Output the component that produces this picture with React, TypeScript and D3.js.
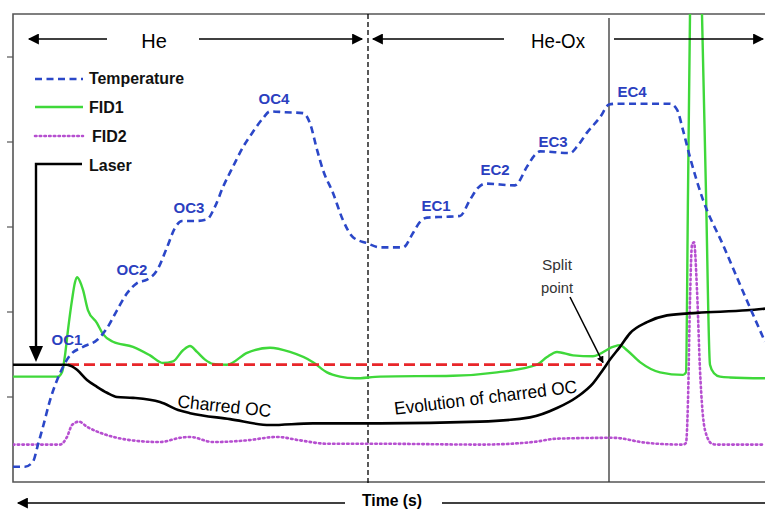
import * as d3 from 'd3';

// time (s) and signal (a.u.)
const temperature: [number, number][] = [
  [0, 0.18], [12, 0.18], [20, 0.24], [25, 0.44], [30, 0.65], [37, 0.96], [47, 1.28], [57, 1.49],
  [70, 1.59], [84, 1.67], [94, 1.81], [104, 2.02], [114, 2.22], [124, 2.34], [134, 2.38], [144, 2.49],
  [154, 2.76], [162, 2.99], [169, 3.07], [182, 3.07], [194, 3.09], [202, 3.24], [210, 3.47], [220, 3.71],
  [230, 3.94], [240, 4.12], [250, 4.28], [257, 4.36], [272, 4.35], [290, 4.34], [297, 4.22], [304, 3.91],
  [310, 3.67], [320, 3.40], [330, 3.08], [340, 2.88], [354, 2.81], [367, 2.76], [390, 2.76], [400, 2.93],
  [407, 3.06], [414, 3.11], [432, 3.12], [447, 3.13], [457, 3.32], [465, 3.46], [472, 3.51], [502, 3.49],
  [514, 3.71], [522, 3.85], [527, 3.89], [557, 3.87], [565, 3.96], [574, 4.11], [587, 4.29], [596, 4.44],
  [602, 4.45], [657, 4.45], [664, 4.38], [670, 4.14], [677, 3.82], [690, 3.32], [710, 2.79], [730, 2.24],
  [752, 1.65],
];

const fid1: [number, number][] = [
  [0, 1.24], [45, 1.24], [49, 1.29], [52, 1.49], [55, 1.79], [59, 2.14], [62, 2.35], [64, 2.41],
  [67, 2.36], [70, 2.26], [75, 2.02], [84, 1.87], [90, 1.74], [100, 1.65], [120, 1.59], [137, 1.49],
  [150, 1.40], [160, 1.42], [170, 1.55], [177, 1.60], [184, 1.53], [192, 1.44], [200, 1.39], [214, 1.38],
  [234, 1.52], [257, 1.58], [277, 1.53], [300, 1.41], [314, 1.29], [327, 1.24], [342, 1.22], [367, 1.24],
  [440, 1.25], [484, 1.29], [524, 1.38], [534, 1.47], [544, 1.53], [560, 1.49], [580, 1.48], [600, 1.59],
  [607, 1.61], [614, 1.55], [627, 1.41], [647, 1.29], [670, 1.26], [673, 1.29], [675, 3.4], [677, 5.5],
  [682, 8.0], [689, 5.5], [693, 3.4], [697, 1.38], [701, 1.28], [707, 1.24], [717, 1.23], [752, 1.22],
];

const fid2: [number, number][] = [
  [0, 0.44], [47, 0.44], [54, 0.53], [59, 0.67], [66, 0.71], [74, 0.65], [87, 0.58], [104, 0.52],
  [127, 0.48], [147, 0.47], [167, 0.52], [177, 0.53], [200, 0.47], [234, 0.49], [264, 0.53], [287, 0.49],
  [314, 0.45], [367, 0.45], [467, 0.44], [520, 0.47], [544, 0.51], [600, 0.52], [634, 0.46], [670, 0.44],
  [673, 0.46], [675, 0.96], [677, 2.14], [679, 2.79], [681, 2.82], [684, 2.26], [687, 1.32], [692, 0.61],
  [699, 0.45], [704, 0.44], [752, 0.44],
];

const laser: [number, number][] = [
  [0, 1.38], [54, 1.38], [59, 1.36], [64, 1.32], [74, 1.20], [84, 1.12], [94, 1.05], [104, 1.00],
  [120, 0.99], [147, 0.94], [167, 0.84], [177, 0.81], [217, 0.74], [257, 0.67], [300, 0.69], [367, 0.69],
  [467, 0.71], [517, 0.76], [544, 0.87], [564, 1.00], [580, 1.16], [590, 1.32], [597, 1.44], [607, 1.59],
  [617, 1.75], [634, 1.88], [654, 1.96], [684, 1.99], [734, 2.02], [752, 2.04],
];

const splitLevel = 1.38;
const splitRange = [55, 589];
const heOxStart = 355;
const laserOff = 596;
const yTicks = [1, 2, 3, 4, 5];

const peakLabels = [
  { label: 'OC1', t: 54, v: 1.61 },
  { label: 'OC2', t: 119, v: 2.44 },
  { label: 'OC3', t: 176, v: 3.16 },
  { label: 'OC4', t: 261, v: 4.45 },
  { label: 'EC1', t: 423, v: 3.19 },
  { label: 'EC2', t: 482, v: 3.61 },
  { label: 'EC3', t: 540, v: 3.94 },
  { label: 'EC4', t: 619, v: 4.53 },
];

const W = 765;
const H = 509;
const left = 13;
const top = 14;
const bottom = 482;
const font = 'Liberation Sans, Arial, sans-serif';

export default function App() {
  const x = d3.scaleLinear().domain([0, 752]).range([left, W]);
  const y = d3.scaleLinear().domain([0, 5.5]).range([bottom, bottom - 5.5 * 85]);

  const line = d3.line<[number, number]>()
    .x(d => x(d[0]))
    .y(d => y(d[1]))
    .curve(d3.curveMonotoneX);

  const ySplit = y(splitLevel);

  return (
    <svg width={W} height={H} style={{ position: 'absolute', left: 0, top: 0, background: '#fff' }}>
      <defs>
        <clipPath id="plot">
          <rect x={left} y={top} width={W - left} height={bottom - top} />
        </clipPath>
        <marker id="arr" viewBox="0 0 10 10" refX="9" refY="5" markerWidth="7" markerHeight="7"
          orient="auto-start-reverse" markerUnits="userSpaceOnUse">
          <path d="M0,0 L10,5 L0,10 z" fill="#000" />
        </marker>
        <marker id="arrBig" viewBox="0 0 10 10" refX="9" refY="5" markerWidth="13" markerHeight="11"
          orient="auto-start-reverse" markerUnits="userSpaceOnUse">
          <path d="M0,0 L10,5 L0,10 z" fill="#000" />
        </marker>
      </defs>

      {/* frame */}
      <path d={`M${W},${top}H${left}V${bottom}H${W}`} fill="none" stroke="#555" strokeWidth={1.6} />
      {yTicks.map(t => (
        <line key={t} x1={left - 6} x2={left} y1={y(t)} y2={y(t)} stroke="#555" strokeWidth={1.2} />
      ))}

      {/* phase dividers */}
      <line x1={x(heOxStart)} x2={x(heOxStart)} y1={top} y2={bottom + 2} stroke="#000"
        strokeWidth={1.3} strokeDasharray="5,3" />
      <line x1={x(laserOff)} x2={x(laserOff)} y1={top + 4} y2={bottom} stroke="#333" strokeWidth={1.3} />

      <g clipPath="url(#plot)" fill="none" strokeLinejoin="round">
        <path d={line(fid2) ?? ''} stroke="#b64fd0" strokeWidth={2.6} strokeDasharray="1.5,3.2"
          strokeLinecap="round" />
        <path d={line(fid1) ?? ''} stroke="#3fd83a" strokeWidth={2.4} />
        <line x1={x(splitRange[0])} x2={x(splitRange[1])} y1={ySplit} y2={ySplit} stroke="#e8262a"
          strokeWidth={2.8} strokeDasharray="11,5" />
        <path d={line(laser) ?? ''} stroke="#000" strokeWidth={2.6} />
        <path d={line(temperature) ?? ''} stroke="#2b47c8" strokeWidth={2.6} strokeDasharray="7,4.5" />
      </g>

      {/* peak labels */}
      {peakLabels.map(p => (
        <text key={p.label} x={x(p.t)} y={y(p.v)} textAnchor="middle" fontFamily={font} fontWeight="bold"
          fontSize={15} fill="#2b3fbf">{p.label}</text>
      ))}

      {/* phase arrows */}
      <g stroke="#000" strokeWidth={1.6}>
        <line x1={107} x2={29} y1={39} y2={39} markerEnd="url(#arrBig)" />
        <line x1={199} x2={362} y1={39} y2={39} markerEnd="url(#arrBig)" />
        <line x1={504} x2={373} y1={39} y2={39} markerEnd="url(#arrBig)" />
        <line x1={614} x2={763} y1={39} y2={39} markerEnd="url(#arrBig)" />
        <line x1={345} x2={18} y1={503} y2={503} markerEnd="url(#arrBig)" />
        <line x1={442} x2={765} y1={503} y2={503} />
      </g>
      <text x={154} y={48} textAnchor="middle" fontFamily={font} fontSize={20}>He</text>
      <text x={558} y={48} textAnchor="middle" fontFamily={font} fontSize={20} textLength={54}
        lengthAdjust="spacingAndGlyphs">He-Ox</text>
      <text x={392} y={506} textAnchor="middle" fontFamily={font} fontWeight="bold" fontSize={16}
        textLength={60} lengthAdjust="spacingAndGlyphs">Time (s)</text>

      {/* legend */}
      <g fontFamily={font} fontWeight="bold" fontSize={16} fill="#111">
        <line x1={35} x2={83} y1={79} y2={79} stroke="#2b47c8" strokeWidth={2.6} strokeDasharray="7,4.5" />
        <text x={89} y={84} textLength={95} lengthAdjust="spacingAndGlyphs">Temperature</text>
        <line x1={35} x2={83} y1={107} y2={107} stroke="#3fd83a" strokeWidth={2.4} />
        <text x={89} y={113}>FID1</text>
        <line x1={35} x2={83} y1={136} y2={136} stroke="#b64fd0" strokeWidth={2.6}
          strokeDasharray="1.5,3.2" strokeLinecap="round" />
        <text x={92} y={142}>FID2</text>
        <path d="M82,164H36V350" fill="none" stroke="#000" strokeWidth={2.4} />
        <path d="M29,346L43,346L36,362z" fill="#000" />
        <text x={89} y={171}>Laser</text>
      </g>

      {/* annotations */}
      <text transform={`translate(${x(164)},${y(0.88)}) rotate(6)`} fontFamily={font} fontSize={18}
        textLength={94} lengthAdjust="spacingAndGlyphs">Charred OC</text>
      <text transform={`translate(${x(382)},${y(0.79)}) rotate(-7)`} fontFamily={font} fontSize={18}
        textLength={184} lengthAdjust="spacingAndGlyphs">Evolution of charred OC</text>
      <text x={557} y={270} textAnchor="middle" fontFamily={font} fontSize={14} fill="#333"
        textLength={30} lengthAdjust="spacingAndGlyphs">Split</text>
      <text x={557} y={293} textAnchor="middle" fontFamily={font} fontSize={14} fill="#333"
        textLength={32} lengthAdjust="spacingAndGlyphs">point</text>
      <line x1={570} y1={297} x2={x(splitRange[1]) + 1} y2={ySplit - 2} stroke="#000" strokeWidth={1.5}
        markerEnd="url(#arr)" />
    </svg>
  );
}
